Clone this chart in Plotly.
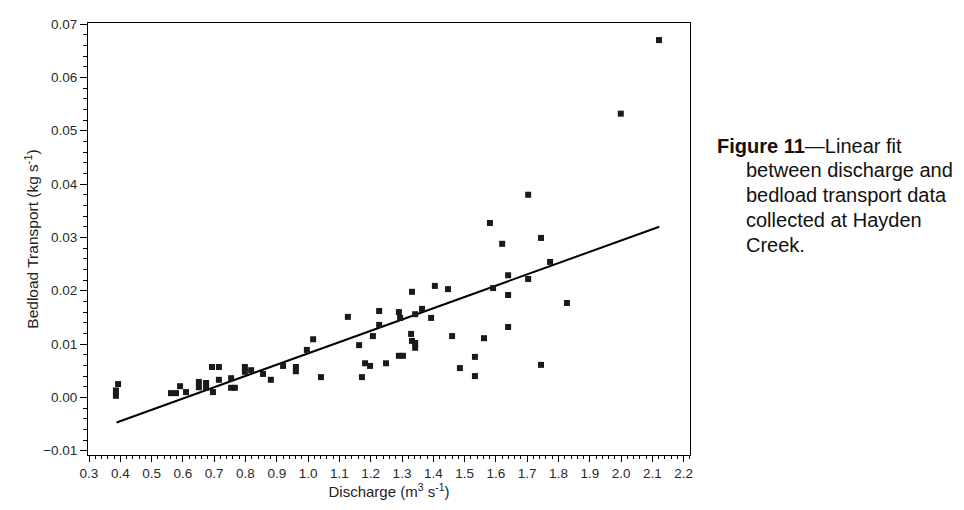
import plotly.graph_objects as go

# discharge (m3/s) and bedload transport (kg/s)
discharge = [
    0.386, 0.386, 0.393, 0.562, 0.578, 0.591, 0.610, 0.651, 0.651, 0.674,
    0.674, 0.696, 0.693, 0.715, 0.715, 0.754, 0.754, 0.766, 0.798, 0.798,
    0.818, 0.856, 0.881, 0.920, 0.961, 0.961, 0.996, 1.016, 1.041,
    1.127, 1.227, 1.290, 1.294, 1.227, 1.332, 1.405, 1.447, 1.342, 1.364,
    1.393, 1.163, 1.207, 1.329, 1.332, 1.342, 1.342, 1.460, 1.562, 1.533,
    1.533, 1.485, 1.182, 1.198, 1.172, 1.249, 1.290, 1.303, 1.591, 1.639,
    1.639, 1.639, 1.703, 1.703, 1.581, 1.620, 1.744, 1.773, 1.827, 1.744,
    1.999, 2.121,
]
bedload = [
    0.0003, 0.0013, 0.0025, 0.0008, 0.0008, 0.0021, 0.0010, 0.0029, 0.0019, 0.0027,
    0.0018, 0.0010, 0.0057, 0.0057, 0.0033, 0.0036, 0.0018, 0.0018, 0.0057, 0.0048,
    0.0051, 0.0044, 0.0033, 0.0059, 0.0057, 0.0049, 0.0089, 0.0109, 0.0038,
    0.0151, 0.0162, 0.0160, 0.0149, 0.0136, 0.0198, 0.0209, 0.0203, 0.0156, 0.0166,
    0.0149, 0.0098, 0.0115, 0.0119, 0.0106, 0.0102, 0.0093, 0.0115, 0.0111, 0.0076,
    0.0040, 0.0055, 0.0064, 0.0059, 0.0038, 0.0064, 0.0078, 0.0078, 0.0205, 0.0229,
    0.0192, 0.0132, 0.0222, 0.0380, 0.0327, 0.0288, 0.0299, 0.0254, 0.0177, 0.0061,
    0.0532, 0.0670,
]

# linear fit end points
fit_x = [0.388, 2.122]
fit_y = [-0.0047, 0.0320]

caption_lines = [
    "<b>Figure 11</b>\u2014Linear fit",
    "between discharge and",
    "bedload transport data",
    "collected at Hayden",
    "Creek.",
]

fig = go.Figure()

fig.add_trace(go.Scatter(
    x=fit_x, y=fit_y,
    mode='lines',
    line=dict(color='black', width=2),
    showlegend=False
))

fig.add_trace(go.Scatter(
    x=discharge, y=bedload,
    mode='markers',
    marker=dict(symbol='square', size=6, color='#1a1a1a'),
    showlegend=False
))

font_family = 'Liberation Sans, Arial, sans-serif'

# the page adds an 8px body margin, so the margins are trimmed by that
fig.update_layout(
    width=964, height=510,
    margin=dict(l=80, r=282, t=15, b=63),
    paper_bgcolor='white',
    plot_bgcolor='white',
    font=dict(family=font_family, size=13.5, color='#2a2a2a'),
)

fig.update_xaxes(
    range=[0.2968, 2.2201],
    tick0=0.3, dtick=0.1, tickformat='.1f',
    ticks='outside', ticklen=6, tickcolor='black',
    minor=dict(ticks='outside', ticklen=3, dtick=0.02, tick0=0.3, tickcolor='black'),
    showline=True, linecolor='black', linewidth=1, mirror=True,
    showgrid=False, zeroline=False,
    title=dict(text='Discharge (m<sup>3</sup> s<sup>-1</sup>)', standoff=6,
               font=dict(size=15, color='#222222')),
    automargin=False,
)

fig.update_yaxes(
    range=[-0.0108, 0.0702],
    tick0=0, dtick=0.01, tickformat='.2f',
    ticks='outside', ticklen=7, tickcolor='black',
    minor=dict(ticks='outside', ticklen=4, dtick=0.002, tick0=0, tickcolor='black'),
    showline=True, linecolor='black', linewidth=1, mirror=True,
    showgrid=False, zeroline=False,
    title=dict(text='Bedload Transport (kg s<sup>-1</sup>)', standoff=0,
               font=dict(size=15.5, color='#222222')),
    automargin=False,
)

# caption to the right of the plot
line_y = [146, 170, 195, 220, 245]
for i, (txt, py) in enumerate(zip(caption_lines, line_y)):
    px = 715 if i == 0 else 744
    fig.add_annotation(
        xref='paper', yref='paper',
        x=(px - 88) / 602, y=(455 - py) / 432,
        xanchor='left', yanchor='middle',
        text=txt, showarrow=False,
        font=dict(family=font_family, size=20, color='#111111'),
    )

fig.write_html("out.html")
